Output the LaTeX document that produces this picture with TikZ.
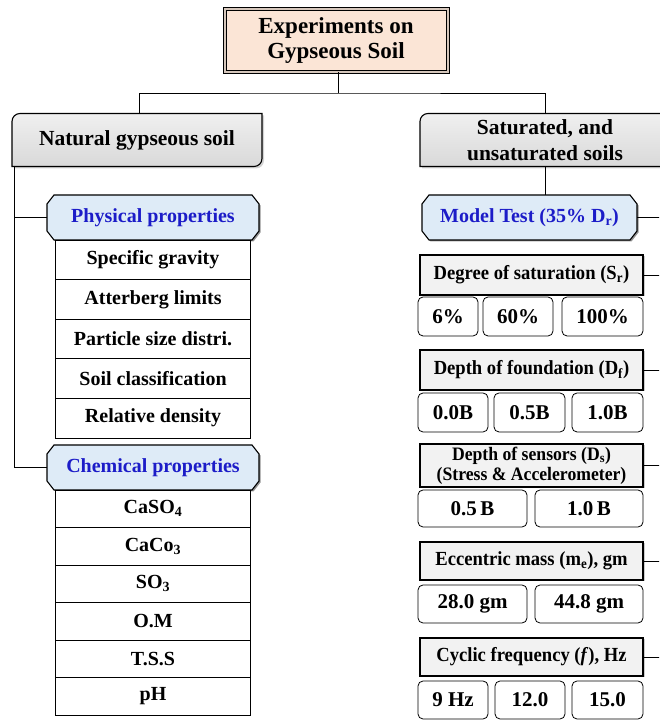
\documentclass[tikz,border=0pt]{standalone}
\usepackage{fontspec}
\setmainfont{Liberation Serif}
\newfontfamily\semiserif[FakeStretch=0.93]{Liberation Serif}
\usetikzlibrary{positioning, shadows, backgrounds}

\definecolor{peach}{HTML}{FBE5D6}
\definecolor{paleblue}{HTML}{DEEBF7}
\definecolor{headblue}{HTML}{1C1CC8}
\definecolor{boxgray}{HTML}{F2F2F2}

\newcommand\fsz[2]{\fontsize{#1}{#2}\selectfont\bfseries}

% outline with top-left and bottom-right corners rounded
\newcommand\roundsnip[1]{%
  \begin{scope}[on background layer]
    \path[snip fill] ([yshift=-8pt]#1.north west) arc[start angle=180, end angle=90, radius=8pt]
      -- (#1.north east) -- ([yshift=8pt]#1.south east)
      arc[start angle=0, end angle=-90, radius=8pt] -- (#1.south west) -- cycle;
  \end{scope}}

% outline with all four corners cut off
\newcommand\cutcorners[1]{%
  \begin{scope}[on background layer]
    \path[cut fill] ([xshift=7pt]#1.north west) -- ([xshift=-7pt]#1.north east)
      -- ([yshift=-9pt]#1.north east) -- ([yshift=9pt]#1.south east)
      -- ([xshift=-7pt]#1.south east) -- ([xshift=7pt]#1.south west)
      -- ([yshift=9pt]#1.south west) -- ([yshift=-9pt]#1.north west) -- cycle;
  \end{scope}}

\begin{document}
\begin{tikzpicture}[x=1pt,y=1pt,line width=.8pt,node distance=0pt]

			\tikzstyle{every node}=[align=center,inner sep=0pt,outer sep=0pt]

			\tikzstyle{title box}=[draw,line width=1pt,double=peach!70!gray,double distance=2pt,fill=peach,minimum width=223pt,minimum height=63pt,font=\fsz{23}{25}]
			\tikzstyle{branch box}=[minimum width=250pt,minimum height=53pt,font=\fsz{21.5}{26}]
			\tikzstyle{snip fill}=[draw,line width=1.1pt,top color=gray!12,middle color=white,bottom color=gray!30,drop shadow={shadow xshift=2pt,shadow yshift=-2pt,opacity=.35}]
			\tikzstyle{prop head}=[text=headblue,minimum width=212pt,minimum height=45pt,font=\fsz{20}{24}]
			\tikzstyle{cut fill}=[draw,line width=1.1pt,fill=paleblue,drop shadow={shadow xshift=1.5pt,shadow yshift=-1.5pt,fill=black!70,opacity=.6}]
			\tikzstyle{phys cell}=[draw,fill=white,minimum width=195pt,minimum height=39.6pt,font=\fsz{20}{24}]
			\tikzstyle{chem cell}=[draw,fill=white,minimum width=195pt,minimum height=37.5pt,font=\fsz{20}{24}]
			\tikzstyle{factor box}=[draw,line width=1.1pt,fill=boxgray,minimum width=223pt,font=\semiserif\fsz{20}{21},drop shadow={shadow xshift=1.5pt,shadow yshift=-1.5pt,opacity=.4}]
			\tikzstyle{value box}=[draw,rounded corners=5pt,fill=white,font=\fsz{21}{24}]

			\useasboundingbox (0,0) rectangle (659,720);
			\clip (0,0) rectangle (659,720);

			\node[title box] (G0) at (336,679.5) {Experiments on\\Gypseous Soil};

			\node[branch box] (N0) at (137,580) {Natural gypseous soil};
			\node[branch box] (S0) at (545,580) {Saturated, and\\unsaturated soils};
			\roundsnip{N0}
			\roundsnip{S0}

			\draw ([xshift=2pt]G0.south) -- ++(0,-21) coordinate (split);
			\draw ([xshift=2pt]N0.north) |- (split) -| (S0.north);

			% natural soil
			\node[prop head] (P0) at (153,502.5) {Physical properties};
			\cutcorners{P0}
			\node[phys cell] (P1) [below=of P0] {Specific gravity};
			\node[phys cell] (P2) [below=of P1] {Atterberg limits};
			\node[phys cell] (P3) [below=of P2] {Particle size distri.};
			\node[phys cell] (P4) [below=of P3] {Soil classification};
			\node[phys cell] (P5) [below=of P4] {Relative density};

			\node[prop head] (C0) at (153,252.5) {Chemical properties};
			\cutcorners{C0}
			\node[chem cell] (C1) [below=of C0] {CaSO\textsubscript{4}};
			\node[chem cell] (C2) [below=of C1] {CaCo\textsubscript{3}};
			\node[chem cell] (C3) [below=of C2] {SO\textsubscript{3}};
			\node[chem cell] (C4) [below=of C3] {O.M};
			\node[chem cell] (C5) [below=of C4] {T.S.S};
			\node[chem cell] (C6) [below=of C5] {pH};

			\coordinate (spine) at ([xshift=2pt]N0.south west);
			\draw (spine) |- (C0.west);
			\draw (P0.west) -- (P0.west -| spine);

			% model test
			\node[prop head,minimum width=215pt] (M0) at (529.5,502.5) {Model Test (35\% D\textsubscript{r})};
			\cutcorners{M0}
			\draw (S0.south) -- (S0.south |- M0.north);

			\node[factor box,minimum height=40pt] (F1) at (531.5,445) {Degree of saturation (S\textsubscript{r})};
			\node[value box,minimum width=60pt,minimum height=39pt] (V11) at (448,403.5) {6\%};
			\node[value box,minimum width=70pt,minimum height=39pt] (V12) at (518,403.5) {60\%};
			\node[value box,minimum width=81pt,minimum height=39pt] (V13) at (602.5,403.5) {100\%};

			\node[factor box,minimum height=40pt] (F2) at (531.5,350) {Depth of foundation (D\textsubscript{f})};
			\node[value box,minimum width=70pt,minimum height=39pt] (V21) at (453,307.5) {0.0B};
			\node[value box,minimum width=71pt,minimum height=39pt] (V22) at (529.5,307.5) {0.5B};
			\node[value box,minimum width=71pt,minimum height=39pt] (V23) at (607.5,307.5) {1.0B};

			\node[factor box,minimum height=43pt,font=\semiserif\fsz{19}{20}] (F3) at (531.5,254.5) {Depth of sensors (D\textsubscript{s})\\(Stress \& Accelerometer)};
			\node[value box,minimum width=109pt,minimum height=37pt] (V31) at (472.5,211.5) {0.5\,B};
			\node[value box,minimum width=108pt,minimum height=37pt] (V32) at (589,211.5) {1.0\,B};

			\node[factor box,minimum height=38pt] (F4) at (531.5,159) {Eccentric mass (m\textsubscript{e}), gm};
			\node[value box,minimum width=109pt,minimum height=38pt] (V41) at (472.5,116) {28.0 gm};
			\node[value box,minimum width=108pt,minimum height=38pt] (V42) at (589,116) {44.8 gm};

			\node[factor box,minimum height=38pt] (F5) at (531.5,63) {Cyclic frequency (\textit{f}), Hz};
			\node[value box,minimum width=70pt,minimum height=38pt] (V51) at (453,20) {9 Hz};
			\node[value box,minimum width=70pt,minimum height=38pt] (V52) at (530,20) {12.0};
			\node[value box,minimum width=71pt,minimum height=38pt] (V53) at (607.5,20) {15.0};

			% links to the cut-off spine on the right
			\coordinate (edge) at (675,0);
			\draw (M0.east) -- (M0.east -| edge);
			\draw (F1.east) -- (F1.east -| edge);
			\draw (F2.east) -- (F2.east -| edge);
			\draw (F3.east) -- (F3.east -| edge);
			\draw (F4.east) -- (F4.east -| edge);
			\draw (F5.east) -- (F5.east -| edge);

		\end{tikzpicture}
\end{document}
